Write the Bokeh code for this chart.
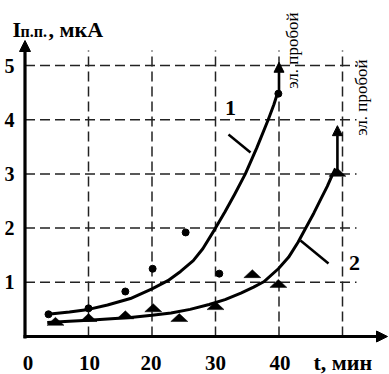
import math
from bokeh.plotting import figure
from bokeh.models import Range1d, Arrow, NormalHead
from bokeh.core.properties import value
from bokeh.embed import file_html
from bokeh.resources import INLINE

# ---- data ----
# curve 1: measured points (dots)
t1 = [3.7, 10.0, 15.8, 20.1, 25.3, 30.6, 39.9]
i1 = [0.41, 0.52, 0.83, 1.25, 1.92, 1.16, 4.48]
# curve 2: measured points (triangles)
t2 = [4.8, 10.0, 15.8, 20.2, 24.3, 30.0, 35.8, 39.9, 49.2]
i2 = [0.28, 0.35, 0.40, 0.53, 0.35, 0.57, 1.16, 0.98, 3.03]
# fitted curve 1
c1_t = [3.6, 7.0, 10.0, 13.0, 16.6, 20.0, 22.5, 24.5, 26.5, 28.0, 30.0,
        31.5, 33.0, 34.7, 36.5, 38.3, 39.2, 39.9]
c1_i = [0.41, 0.45, 0.50, 0.58, 0.70, 0.88, 1.03, 1.20, 1.40, 1.62, 2.00,
        2.30, 2.62, 3.00, 3.48, 4.00, 4.28, 4.54]
# fitted curve 2
c2_t = [3.5, 7.0, 10.0, 13.0, 16.6, 20.0, 23.0, 26.0, 29.0, 31.5, 34.0,
        36.0, 37.6, 39.9, 41.5, 43.0, 44.3, 45.5, 46.6, 47.6, 48.4, 48.9]
c2_i = [0.26, 0.28, 0.30, 0.325, 0.35, 0.39, 0.435, 0.50, 0.59, 0.68, 0.80,
        0.91, 1.01, 1.25, 1.46, 1.74, 2.02, 2.28, 2.54, 2.77, 2.98, 3.10]
# breakdown arrows (time, start current, end current)
bd_t = [40.0, 49.2]
bd_from = [4.50, 3.05]
bd_to = [5.06, 3.89]

x_ticks = [0, 10, 20, 30, 40]
x_tick_labels = ["0", "10", "20", "30", "40"]
y_ticks = [1, 2, 3, 4, 5]
y_tick_labels = ["1", "2", "3", "4", "5"]
x_grid = [10, 20, 30, 40, 50]

# ---- pixel <-> data mapping (layout) ----
W, H = 389, 374
X0, SX = 24.5, 6.35     # px of t=0, px per minute
Y0, SY = 336.0, 54.2    # px of I=0, px per uA
def X(px):
    return (px - X0) / SX
def Y(py):
    return (Y0 - py) / SY

p = figure(width=W, height=H, output_backend="svg", toolbar_location=None,
           x_range=Range1d(X(0), X(W)), y_range=Range1d(Y(H), Y(0)),
           min_border=0, min_border_left=0, min_border_right=0,
           min_border_top=0, min_border_bottom=0)
p.axis.visible = False
p.grid.visible = False
p.outline_line_color = None
p.background_fill_color = "white"
p.border_fill_color = "white"

serif = value("Liberation Serif")

# dashed grid
g_top = Y(50)
p.segment(x0=x_grid, y0=[0] * len(x_grid), x1=x_grid, y1=[g_top] * len(x_grid),
          line_color="#222222", line_width=1.5, line_dash="10 5")
g_right = X(356)
p.segment(x0=[0] * len(y_ticks), y0=y_ticks, x1=[g_right] * len(y_ticks), y1=y_ticks,
          line_color="#222222", line_width=1.5, line_dash="10 5")

# axes with arrows
p.add_layout(Arrow(end=NormalHead(size=11, fill_color="black", line_color="black"),
                   x_start=0, y_start=Y(338), x_end=0, y_end=Y(40),
                   line_color="black", line_width=3.2))
p.add_layout(Arrow(end=NormalHead(size=11, fill_color="black", line_color="black"),
                   x_start=X(23), y_start=0, x_end=X(387), y_end=0,
                   line_color="black", line_width=2.8))

# curves
p.line(c1_t, c1_i, line_color="black", line_width=3, line_join="round")
p.line(c2_t, c2_i, line_color="black", line_width=3, line_join="round")

# breakdown arrows
for t, a, b in zip(bd_t, bd_from, bd_to):
    p.add_layout(Arrow(end=NormalHead(size=10, fill_color="black", line_color="black"),
                       x_start=t, y_start=a, x_end=t, y_end=b,
                       line_color="black", line_width=2.6))

# dots
p.scatter(t1, i1, size=7, marker="circle", fill_color="black", line_color="black")

# flat triangles
hw = 8.5 / SX
hh = 8.0 / SY
xs = [[t - hw, t + hw, t] for t in t2]
ys = [[v - hh / 2, v - hh / 2, v + hh / 2] for v in i2]
p.patches(xs, ys, fill_color="black", line_color="black", line_width=0.5)

# leader lines and curve numbers
p.segment(x0=[X(228), X(300)], y0=[Y(134), Y(240)], x1=[X(250), X(328)], y1=[Y(152), Y(263)],
          line_color="black", line_width=2.5)
p.text(x=[X(230), X(354)], y=[Y(107), Y(262)], text=["1", "2"],
       text_font=serif, text_font_style="bold", text_font_size="22px",
       text_align="center", text_baseline="middle", text_color="black")

# tick labels
p.text(x=x_ticks, y=[Y(362)] * len(x_ticks), text=x_tick_labels, x_offset=[3, 1, -1, 0, 1],
       text_font=serif, text_font_style="bold", text_font_size="21px",
       text_align="center", text_baseline="middle", text_color="black")
p.text(x=[X(14)] * len(y_ticks), y=y_ticks, text=y_tick_labels,
       text_font=serif, text_font_style="bold", text_font_size="20px",
       text_align="right", text_baseline="middle", text_color="black")

# axis titles
p.text(x=[X(313)], y=[Y(362)], text=["t, мин"],
       text_font=serif, text_font_style="bold", text_font_size="22px",
       text_align="left", text_baseline="middle", text_color="black")
p.text(x=[X(12)], y=[Y(29)], text=["I"],
       text_font=serif, text_font_style="bold", text_font_size="22px",
       text_align="left", text_baseline="alphabetic", text_color="black")
p.text(x=[X(20)], y=[Y(31)], text=["п.п."],
       text_font=serif, text_font_style="bold", text_font_size="16px",
       text_align="left", text_baseline="alphabetic", text_color="black")
p.text(x=[X(48)], y=[Y(29)], text=[", мкА"],
       text_font=serif, text_font_style="bold", text_font_size="22px",
       text_align="left", text_baseline="alphabetic", text_color="black")

# rotated breakdown notes
p.text(x=[X(292), X(361)], y=[Y(50), Y(97)], text=["эл. пробой", "эл. пробой"],
       angle=math.pi / 2,
       text_font=serif, text_font_size="17px",
       text_align="center", text_baseline="middle", text_color="black")

open("out.html", "w").write(file_html(p, INLINE))
